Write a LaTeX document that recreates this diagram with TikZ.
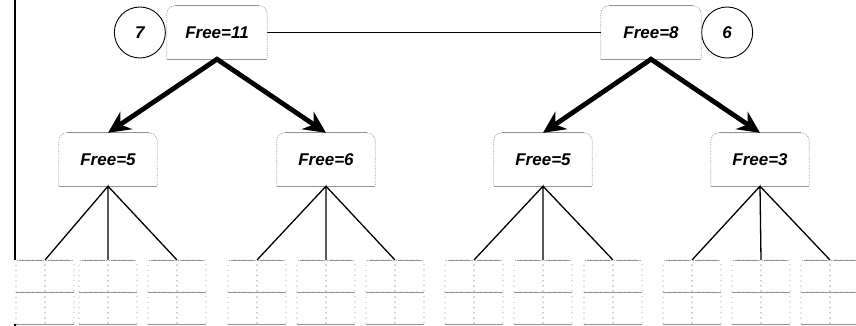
\documentclass[tikz,border=0pt]{standalone}
\usepackage{fontspec}
\setmainfont{Liberation Sans}
\usetikzlibrary{positioning,arrows.meta,calc}

\tikzset{
  freebox/.style={minimum width=100pt, minimum height=53pt, inner sep=0pt,
    font=\fontsize{17}{19}\selectfont\bfseries\itshape},
  boxside/.style={draw=gray!75, densely dotted, line width=0.8pt, rounded corners=8pt},
  boxedge/.style={draw=gray!85, line width=0.8pt},
  cellside/.style={draw=gray!75, dash pattern=on 1.2pt off 4pt, line width=0.8pt, rounded corners=3pt},
  numring/.style={draw, circle, line width=0.9pt, minimum size=51pt, inner sep=0pt,
    font=\fontsize{17}{19}\selectfont\bfseries\itshape},
  bigarrow/.style={line width=4.8pt, line join=miter,
    {Stealth[length=22pt,width=21pt]}-{Stealth[length=22pt,width=21pt]}},
  twig/.style={line width=1.3pt}
}

% outline of a free-space box: dotted sides, rounded top corners
\newcommand{\boxoutline}[1]{%
  \draw[boxside] (#1.south west) -- (#1.north west) -- (#1.north east) -- (#1.south east);
  \draw[boxedge] ([xshift=8pt]#1.north west) -- ([xshift=-8pt]#1.north east)
                 (#1.south west) -- (#1.south east);
}
% one small cell, given its top left corner
\newcommand{\cellbox}[2]{%
  \draw[cellside] (#1,#2+32) -- (#1,#2) -- (#1+29,#2) -- (#1+29,#2+32);
  \draw[boxedge] (#1+3,#2) -- (#1+26,#2) (#1,#2+32) -- (#1+29,#2+32);
}

\begin{document}
\begin{tikzpicture}[x=1pt,y=-1pt]
  \useasboundingbox (0,0) rectangle (856,326);
  \clip (0,0) rectangle (856,326);

  % frame on the left
  \draw[line width=1.3pt] (15,0) -- (15,260);
  \draw[line width=1.3pt] (15,324) -- (15,326);

  % top level
  \node[freebox] (t1) at (217,32.5) {Free=11};
  \node[freebox] (t2) at (651,32.5) {Free=8};
  \node[numring, left=1pt of t1] (n1) {7};
  \node[numring, right=0pt of t2] (n2) {6};
  \draw[line width=1.5pt] (t1.east) -- (t2.west);

  % second level
  \node[freebox, minimum width=98pt] (c1) at (108,159.5) {Free=5};
  \node[freebox, minimum width=98pt] (c2) at (326,159.5) {Free=6};
  \node[freebox, minimum width=98pt] (c3) at (543,159.5) {Free=5};
  \node[freebox, minimum width=98pt] (c4) at (760,159.5) {Free=3};

  \foreach \b in {t1,t2,c1,c2,c3,c4} {\boxoutline{\b}}

  \draw[bigarrow] (c1.north) -- (t1.south) -- (c2.north);
  \draw[bigarrow] (c3.north) -- (t2.south) -- (c4.north);

  % leaf groups, 2 x 2 cells each
  \foreach \gx [count=\i] in {45,108,177,257,326,395,474,543,613,692,761,830} {
    \coordinate (g\i) at (\gx,260);
    \foreach \cx in {0,29}
      \foreach \cy in {260,292}
        {\cellbox{\gx-29+\cx}{\cy}}
  }

  \foreach \c/\a/\b/\d in {c1/1/2/3, c2/4/5/6, c3/7/8/9, c4/10/11/12}
    \draw[twig] (g\a) -- (\c.south) -- (g\b) (\c.south) -- (g\d);
\end{tikzpicture}
\end{document}
